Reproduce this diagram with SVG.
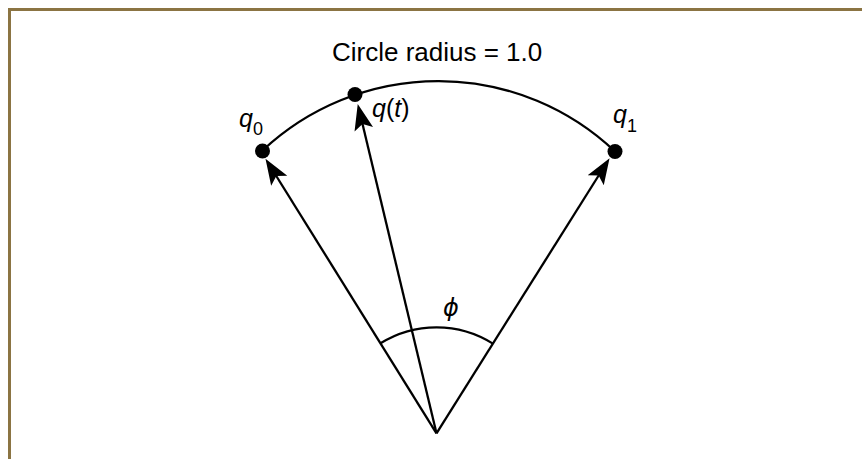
<svg xmlns="http://www.w3.org/2000/svg" width="862" height="459" viewBox="0 0 862 459">
  <style>
    .ln { stroke: #000; stroke-width: 2.3; fill: none; }
    .title { font-family: "Liberation Sans", Arial, sans-serif; font-size: 26px; fill: #000; }
    .lbl { font-family: "Liberation Sans", Arial, sans-serif; font-size: 25px; font-style: italic; fill: #000; }
    .up { font-style: normal; }
    .sub { font-family: "Liberation Sans", Arial, sans-serif; font-size: 18px; font-style: normal; fill: #000; }
    .phi { font-family: "DejaVu Sans", "Liberation Sans", sans-serif; font-size: 24px; font-style: italic; fill: #000; }
    .frame { stroke: #8B7443; stroke-width: 3; fill: none; }
  </style>
  <defs>
    <marker id="ah" markerUnits="userSpaceOnUse" markerWidth="28" markerHeight="22" viewBox="0 -11 28 22" refX="15" refY="0" orient="auto">
      <path d="M26 0 L0 -9.5 L5.5 0 L0 9.5 Z" fill="#000"/>
    </marker>
  </defs>
  <rect width="862" height="459" fill="#fff"/>
  <g id="frame">
    <line class="frame" x1="8" y1="9.5" x2="862" y2="9.5"/>
    <line class="frame" x1="9.5" y1="8" x2="9.5" y2="459"/>
  </g>
  <g id="title">
    <text class="title" x="332" y="61">Circle radius = 1.0</text>
  </g>
  <g id="arc">
    <path class="ln" d="M262.5 150.5 A257 257 0 0 1 615 151.5"/>
  </g>
  <g id="angle">
    <path class="ln" d="M380.5 343.3 A106 106 0 0 1 492.9 343.6"/>
    <text class="phi" x="451" y="316" text-anchor="middle">ϕ</text>
  </g>
  <g id="connectors">
    <line class="ln" x1="436.5" y1="433.3" x2="271.3" y2="168" marker-end="url(#ah)"/>
    <line class="ln" x1="436.5" y1="433.3" x2="360.3" y2="114.7" marker-end="url(#ah)"/>
    <line class="ln" x1="436.5" y1="433.3" x2="603.7" y2="167.5" marker-end="url(#ah)"/>
  </g>
  <g id="q0">
    <circle cx="262.5" cy="151" r="7.5" fill="#000"/>
    <text class="lbl" x="239" y="127">q<tspan class="sub" dy="8">0</tspan></text>
  </g>
  <g id="qt">
    <circle cx="355" cy="94.5" r="7.5" fill="#000"/>
    <text class="lbl" x="372" y="117">q<tspan class="up">(</tspan>t<tspan class="up">)</tspan></text>
  </g>
  <g id="q1">
    <circle cx="615" cy="151.5" r="7.5" fill="#000"/>
    <text class="lbl" x="613" y="123">q<tspan class="sub" dy="9">1</tspan></text>
  </g>
</svg>
